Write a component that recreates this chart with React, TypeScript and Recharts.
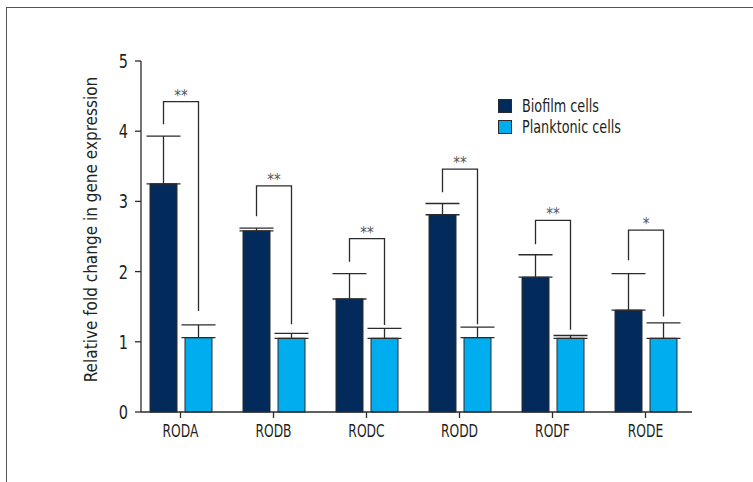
import React from 'react';
import { BarChart, Bar, XAxis, YAxis, ErrorBar, Legend, Rectangle } from 'recharts';

// Gene names on the category axis
const categories = ['RODA', 'RODB', 'RODC', 'RODD', 'RODF', 'RODE'];
// Mean relative fold change per group
const biofilm = [3.25, 2.58, 1.61, 2.81, 1.92, 1.45];
const planktonic = [1.06, 1.05, 1.05, 1.06, 1.05, 1.05];
// Upper error (SD) per group
const biofilmErr = [0.68, 0.04, 0.36, 0.16, 0.32, 0.52];
const planktonicErr = [0.18, 0.07, 0.14, 0.15, 0.04, 0.22];
// Significance brackets: top line, left leg end, right leg end, and mark
const bracketTop = [4.42, 3.22, 2.47, 3.46, 2.73, 2.59];
const bracketLeft = [4.1, 2.79, 2.14, 3.13, 2.39, 2.16];
const bracketRight = [1.44, 1.25, 1.24, 1.25, 1.17, 1.36];
const significance = ['**', '**', '**', '**', '**', '*'];
const yTicks = [0, 1, 2, 3, 4, 5];

const data = categories.map((name, i) => ({
  name,
  biofilm: biofilm[i],
  planktonic: planktonic[i],
  biofilmErr: [0, biofilmErr[i]],
  planktonicErr: [0, planktonicErr[i]],
  bracketTop: bracketTop[i],
  bracketLeft: bracketLeft[i],
  bracketRight: bracketRight[i],
  significance: significance[i],
}));

const FONT = '"DejaVu Sans Condensed", "Liberation Sans Narrow", sans-serif';
const TEXT = '#231f20';
const LINE = '#2b2b2b';
const BIOFILM = '#022b5b';
const PLANKTONIC = '#00aeef';
const BAR_SIZE = 27;
const BAR_GAP = 8;
// horizontal squeeze to get a narrow, condensed letterform
const SQUEEZE = 0.76;

// Planktonic bar plus the significance bracket linking it to its biofilm partner.
const PlanktonicShape = (props: any) => {
  const { x, y, width, height, payload } = props;
  const pxPerUnit = height / payload.planktonic;
  const baseY = y + height;
  const toY = (v: number) => baseY - v * pxPerUnit;
  const rightX = x + width / 2;
  const leftX = rightX - (width + BAR_GAP);
  const topY = toY(payload.bracketTop);
  return (
    <g>
      <Rectangle x={x} y={y} width={width} height={height} fill={PLANKTONIC} stroke={LINE} strokeWidth={1} />
      <path
        d={`M${leftX},${toY(payload.bracketLeft)} L${leftX},${topY} L${rightX},${topY} L${rightX},${toY(payload.bracketRight)}`}
        fill="none"
        stroke={LINE}
        strokeWidth={1.3}
      />
      <text
        x={(leftX + rightX) / 2}
        y={topY - 1}
        textAnchor="middle"
        fontFamily={FONT}
        fontSize={15}
        fill="#555"
      >
        {payload.significance}
      </text>
    </g>
  );
};

const XTick = (props: any) => {
  const { x, y, payload } = props;
  return (
    <g transform={`translate(${x},${y})`}>
      <text
        x={0}
        y={0}
        dy={14.5}
        textAnchor="middle"
        transform={`scale(${SQUEEZE},1)`}
        fontFamily={FONT}
        fontSize={18}
        fill={TEXT}
      >
        {payload.value}
      </text>
    </g>
  );
};

const YTick = (props: any) => {
  const { x, y, payload } = props;
  return (
    <g transform={`translate(${x},${y})`}>
      <text
        x={0}
        y={0}
        dy={7}
        textAnchor="end"
        transform="scale(0.85,1)"
        fontFamily={FONT}
        fontSize={19}
        fill={TEXT}
      >
        {payload.value}
      </text>
    </g>
  );
};

const LegendContent = () => (
  <div style={{ fontFamily: FONT, fontSize: 18, color: TEXT }}>
    {[
      { label: 'Biofilm cells', color: BIOFILM },
      { label: 'Planktonic cells', color: PLANKTONIC },
    ].map((item) => (
      <div key={item.label} style={{ display: 'flex', alignItems: 'center', height: 21, whiteSpace: 'nowrap' }}>
        <span
          style={{
            display: 'inline-block',
            width: 12,
            height: 12,
            background: item.color,
            border: `1px solid ${LINE}`,
            marginRight: 10,
            flex: 'none',
          }}
        />
        <span
          style={{
            display: 'inline-block',
            lineHeight: '21px',
            transform: `scaleX(${SQUEEZE + 0.03})`,
            transformOrigin: 'left center',
          }}
        >
          {item.label}
        </span>
      </div>
    ))}
  </div>
);

const YLabel = (props: any) => {
  const { viewBox } = props;
  const cx = viewBox.x + 10;
  const cy = viewBox.y + viewBox.height / 2 - 7;
  return (
    <text
      x={cx}
      y={cy}
      transform={`rotate(-90, ${cx}, ${cy})`}
      textAnchor="middle"
      dominantBaseline="central"
      fontFamily={FONT}
      fontSize={17}
      fill={TEXT}
    >
      Relative fold change in gene expression
    </text>
  );
};

export default function App() {
  return (
    <div style={{ position: 'absolute', left: 0, top: 0, width: 753, height: 482, background: '#fff', overflow: 'hidden' }}>
      <div
        style={{
          position: 'absolute',
          left: 6,
          top: 7,
          right: -2,
          bottom: -2,
          borderLeft: '1px solid #555',
          borderTop: '1px solid #555',
        }}
      />
      <BarChart
        width={753}
        height={482}
        data={data}
        margin={{ top: 61, right: 61, bottom: 40, left: 81 }}
        barGap={BAR_GAP}
        style={{ position: 'absolute', left: 0, top: 0 }}
      >
        <XAxis
          dataKey="name"
          height={30}
          padding={{ left: -7, right: 0 }}
          axisLine={{ stroke: LINE, strokeWidth: 1.3 }}
          tickLine={{ stroke: LINE, strokeWidth: 1.3 }}
          tickSize={6}
          tickMargin={4}
          tick={<XTick />}
          interval={0}
        />
        <YAxis
          width={60}
          domain={[0, 5]}
          ticks={yTicks}
          axisLine={{ stroke: LINE, strokeWidth: 1.3 }}
          tickLine={{ stroke: LINE, strokeWidth: 1.3 }}
          tickSize={6}
          tickMargin={7}
          tick={<YTick />}
          label={<YLabel />}
        />
        <Legend
          layout="vertical"
          align="center"
          verticalAlign="middle"
          wrapperStyle={{ top: 95, left: 498, width: 'auto' }}
          content={<LegendContent />}
        />
        <Bar
          dataKey="biofilm"
          barSize={BAR_SIZE}
          fill={BIOFILM}
          stroke={LINE}
          strokeWidth={1}
          isAnimationActive={false}
        >
          <ErrorBar dataKey="biofilmErr" direction="y" width={17} stroke={LINE} strokeWidth={1.3} />
        </Bar>
        <Bar
          dataKey="planktonic"
          barSize={BAR_SIZE}
          fill={PLANKTONIC}
          shape={<PlanktonicShape />}
          isAnimationActive={false}
        >
          <ErrorBar dataKey="planktonicErr" direction="y" width={17} stroke={LINE} strokeWidth={1.3} />
        </Bar>
      </BarChart>
    </div>
  );
}
